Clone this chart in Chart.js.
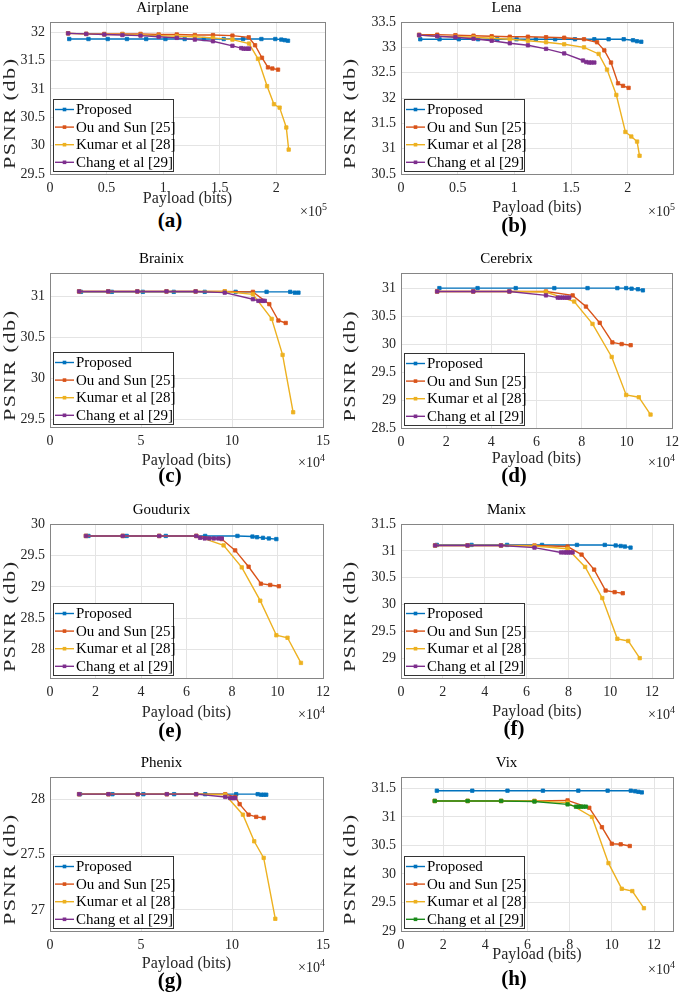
<!DOCTYPE html>
<html>
<head>
<meta charset="utf-8">
<title>PSNR versus payload</title>
<script src="https://cdn.jsdelivr.net/npm/chart.js@4.4.1/dist/chart.umd.min.js"></script>
<style>
  body { margin: 0; background: #fff; }
  #page { position: relative; width: 685px; height: 994px; overflow: hidden; font-family: "Liberation Serif", "Times New Roman", serif; }
  #page canvas { position: absolute; }
  .tag { position: absolute; width: 80px; margin-left: -40px; text-align: center; font-weight: bold; font-size: 21px; line-height: 24px; color: #000; }
  .expo { position: absolute; width: 60px; text-align: right; font-size: 14px; line-height: 18px; color: #262626; }
  .expo sup { font-size: 10px; vertical-align: 6px; line-height: 0; }
</style>
</head>
<body>
<div id="page"></div>
<script>
// Series order is the legend order of every panel
const seriesNames = ['Proposed', 'Ou and Sun [25]', 'Kumar et al [28]', 'Chang et al [29]'];

// (a) Airplane, payload in units of 1e5 bits
const airplanePayload = [
  [0.17, 0.34, 0.51, 0.68, 0.85, 1.02, 1.19, 1.36, 1.535, 1.706, 1.868, 1.991, 2.044, 2.074, 2.103],
  [0.16, 0.32, 0.48, 0.64, 0.8, 0.96, 1.12, 1.28, 1.44, 1.612, 1.756, 1.812, 1.873, 1.926, 1.965, 2.015],
  [0.16, 0.32, 0.48, 0.64, 0.8, 0.96, 1.12, 1.28, 1.44, 1.612, 1.759, 1.838, 1.918, 1.979, 2.029, 2.088, 2.109],
  [0.16, 0.32, 0.48, 0.64, 0.8, 0.96, 1.12, 1.28, 1.44, 1.612, 1.69, 1.71, 1.73, 1.75, 1.76]
];
const airplanePsnr = [
  [31.88, 31.88, 31.88, 31.88, 31.88, 31.88, 31.88, 31.88, 31.88, 31.88, 31.88, 31.88, 31.87, 31.86, 31.85],
  [31.98, 31.97, 31.97, 31.97, 31.97, 31.96, 31.96, 31.95, 31.95, 31.94, 31.91, 31.77, 31.55, 31.38, 31.36, 31.34],
  [31.98, 31.97, 31.96, 31.96, 31.95, 31.94, 31.93, 31.92, 31.9, 31.87, 31.8, 31.53, 31.05, 30.73, 30.67, 30.32, 29.93],
  [31.98, 31.97, 31.96, 31.95, 31.94, 31.92, 31.9, 31.87, 31.84, 31.76, 31.72, 31.71, 31.71, 31.71, 31.71]
];
const airplaneXTicks = [0, 0.5, 1, 1.5, 2];
const airplaneYTicks = [29.5, 30, 30.5, 31, 31.5, 32];

// (b) Lena, 1e5 bits
const lenaPayload = [
  [0.17, 0.34, 0.51, 0.68, 0.85, 1.02, 1.19, 1.36, 1.535, 1.706, 1.832, 1.965, 2.047, 2.082, 2.12],
  [0.16, 0.32, 0.48, 0.64, 0.8, 0.96, 1.12, 1.28, 1.44, 1.615, 1.73, 1.794, 1.853, 1.915, 1.959, 2.008],
  [0.16, 0.32, 0.48, 0.64, 0.8, 0.96, 1.12, 1.28, 1.44, 1.615, 1.744, 1.818, 1.9, 1.98, 2.032, 2.083, 2.105],
  [0.16, 0.32, 0.48, 0.64, 0.8, 0.96, 1.12, 1.28, 1.44, 1.606, 1.635, 1.66, 1.68, 1.706]
];
const lenaPsnr = [
  [33.16, 33.16, 33.16, 33.16, 33.16, 33.16, 33.16, 33.16, 33.16, 33.16, 33.16, 33.16, 33.14, 33.12, 33.11],
  [33.25, 33.25, 33.24, 33.23, 33.22, 33.21, 33.21, 33.2, 33.19, 33.16, 33.1, 32.94, 32.7, 32.29, 32.24, 32.2],
  [33.24, 33.22, 33.21, 33.2, 33.18, 33.16, 33.13, 33.1, 33.06, 33.0, 32.87, 32.56, 32.06, 31.33, 31.24, 31.14, 30.86],
  [33.24, 33.22, 33.2, 33.17, 33.13, 33.08, 33.04, 32.97, 32.88, 32.74, 32.71, 32.7, 32.7, 32.7]
];
const lenaXTicks = [0, 0.5, 1, 1.5, 2];
const lenaYTicks = [30.5, 31, 31.5, 32, 32.5, 33, 33.5];

// (c) Brainix, 1e4 bits
const brainixPayload = [
  [1.7, 3.4, 5.1, 6.8, 8.5, 10.2, 11.9, 13.2, 13.45, 13.65],
  [1.6, 3.2, 4.8, 6.4, 8.0, 9.6, 11.15, 12.05, 12.55, 12.95],
  [1.6, 3.2, 4.8, 6.4, 8.0, 9.6, 11.15, 12.18, 12.78, 13.36],
  [1.6, 3.2, 4.8, 6.4, 8.0, 9.6, 11.15, 11.45, 11.6, 11.7, 11.8]
];
const brainixPsnr = [
  [31.06, 31.06, 31.06, 31.06, 31.06, 31.06, 31.06, 31.06, 31.05, 31.05],
  [31.065, 31.065, 31.065, 31.065, 31.065, 31.065, 31.06, 30.91, 30.71, 30.68],
  [31.065, 31.065, 31.065, 31.065, 31.065, 31.065, 31.03, 30.73, 30.29, 29.59],
  [31.065, 31.065, 31.065, 31.065, 31.065, 31.05, 30.97, 30.95, 30.95, 30.95, 30.95]
];
const brainixXTicks = [0, 5, 10, 15];
const brainixYTicks = [29.5, 30, 30.5, 31];

// (d) Cerebrix, 1e4 bits
const cerebrixPayload = [
  [1.7, 3.39, 5.08, 6.79, 8.26, 9.58, 9.97, 10.21, 10.49, 10.71],
  [1.6, 3.2, 4.8, 6.42, 7.6, 8.19, 8.8, 9.36, 9.77, 10.17],
  [1.6, 3.2, 4.8, 6.42, 7.67, 8.48, 9.33, 9.97, 10.53, 11.05],
  [1.6, 3.2, 4.8, 6.42, 6.94, 7.05, 7.15, 7.25, 7.35, 7.45]
];
const cerebrixPsnr = [
  [31.0, 31.0, 31.0, 31.0, 31.0, 31.0, 31.0, 30.99, 30.98, 30.96],
  [30.94, 30.94, 30.94, 30.94, 30.87, 30.67, 30.38, 30.03, 30.0, 29.98],
  [30.94, 30.94, 30.94, 30.93, 30.76, 30.36, 29.77, 29.09, 29.05, 28.74],
  [30.94, 30.94, 30.94, 30.87, 30.83, 30.83, 30.83, 30.83, 30.83, 30.83]
];
const cerebrixXTicks = [0, 2, 4, 6, 8, 10, 12];
const cerebrixYTicks = [28.5, 29, 29.5, 30, 30.5, 31];

// (e) Goudurix, 1e4 bits
const goudurixPayload = [
  [1.69, 3.37, 5.09, 6.82, 8.24, 8.9, 9.1, 9.36, 9.62, 9.95],
  [1.58, 3.2, 4.8, 6.43, 7.55, 8.14, 8.73, 9.27, 9.68, 10.06],
  [1.58, 3.2, 4.8, 6.43, 7.63, 8.43, 9.24, 9.95, 10.44, 11.03],
  [1.58, 3.2, 4.8, 6.43, 6.6, 6.8, 7.0, 7.2, 7.4, 7.55]
];
const goudurixPsnr = [
  [29.81, 29.81, 29.81, 29.81, 29.81, 29.8, 29.79, 29.78, 29.77, 29.76],
  [29.81, 29.81, 29.81, 29.81, 29.76, 29.58, 29.32, 29.05, 29.03, 29.01],
  [29.81, 29.81, 29.81, 29.81, 29.66, 29.31, 28.78, 28.23, 28.19, 27.79],
  [29.81, 29.81, 29.81, 29.81, 29.78, 29.77, 29.77, 29.77, 29.77, 29.77]
];
const goudurixXTicks = [0, 2, 4, 6, 8, 10, 12];
const goudurixYTicks = [28, 28.5, 29, 29.5, 30];

// (f) Manix, 1e4 bits
const manixPayload = [
  [1.71, 3.37, 5.07, 6.74, 8.41, 9.74, 10.26, 10.5, 10.7, 10.97],
  [1.63, 3.18, 4.78, 6.38, 7.96, 8.63, 9.23, 9.78, 10.21, 10.6],
  [1.63, 3.18, 4.78, 6.38, 7.96, 8.8, 9.62, 10.34, 10.86, 11.41],
  [1.63, 3.18, 4.78, 6.38, 7.65, 7.8, 7.9, 8.0, 8.1, 8.2]
];
const manixPsnr = [
  [31.11, 31.11, 31.11, 31.11, 31.11, 31.11, 31.1, 31.09, 31.08, 31.06],
  [31.1, 31.1, 31.1, 31.1, 31.08, 30.93, 30.65, 30.26, 30.23, 30.21],
  [31.1, 31.1, 31.1, 31.09, 31.04, 30.7, 30.12, 29.36, 29.32, 29.0],
  [31.1, 31.1, 31.1, 31.06, 30.97, 30.97, 30.97, 30.97, 30.97, 30.97]
];
const manixXTicks = [0, 2, 4, 6, 8, 10, 12];
const manixYTicks = [29, 29.5, 30, 30.5, 31, 31.5];

// (g) Phenix, 1e4 bits
const phenixPayload = [
  [1.65, 3.43, 5.13, 6.82, 8.53, 10.23, 11.41, 11.6, 11.74, 11.88],
  [1.6, 3.21, 4.82, 6.42, 8.03, 9.63, 10.18, 10.42, 10.91, 11.33, 11.74],
  [1.6, 3.21, 4.82, 6.42, 8.03, 9.63, 10.6, 11.22, 11.74, 12.38],
  [1.6, 3.21, 4.82, 6.42, 8.03, 9.63, 9.9, 10.0, 10.1, 10.18]
];
const phenixPsnr = [
  [28.045, 28.045, 28.045, 28.045, 28.045, 28.045, 28.045, 28.04, 28.04, 28.04],
  [28.045, 28.045, 28.045, 28.045, 28.045, 28.045, 28.02, 27.955, 27.86, 27.84, 27.83],
  [28.045, 28.045, 28.045, 28.045, 28.045, 28.04, 27.86, 27.62, 27.47, 26.92],
  [28.045, 28.045, 28.045, 28.045, 28.045, 28.02, 28.01, 28.01, 28.01, 28.01]
];
const phenixXTicks = [0, 5, 10, 15];
const phenixYTicks = [27, 27.5, 28];

// (h) Vix, 1e4 bits
const vixPayload = [
  [1.7, 3.38, 5.05, 6.73, 8.41, 9.8, 10.9, 11.1, 11.26, 11.42],
  [1.6, 3.16, 4.75, 6.33, 7.9, 8.93, 9.53, 10.0, 10.42, 10.85],
  [1.6, 3.16, 4.75, 6.33, 7.9, 9.06, 9.84, 10.47, 10.97, 11.52],
  [1.6, 3.16, 4.75, 6.33, 7.9, 8.3, 8.42, 8.53, 8.65, 8.77]
];
const vixPsnr = [
  [31.46, 31.46, 31.46, 31.46, 31.46, 31.46, 31.46, 31.45, 31.44, 31.43],
  [31.28, 31.28, 31.28, 31.28, 31.29, 31.16, 30.82, 30.53, 30.52, 30.49],
  [31.28, 31.28, 31.28, 31.28, 31.25, 31.0, 30.19, 29.74, 29.7, 29.4],
  [31.28, 31.28, 31.28, 31.27, 31.22, 31.18, 31.18, 31.18, 31.18, 31.18]
];
const vixXTicks = [0, 2, 4, 6, 8, 10, 12];
const vixYTicks = [29, 29.5, 30, 30.5, 31, 31.5];

// colours
const lineColors = ['#0072BD', '#D95319', '#EDB120', '#7E2F8E'];
const vixColors = ['#0072BD', '#D95319', '#EDB120', '#1B8B1B'];

// layout of the 8 panels (plot box in page pixels)
const panels = [
  { title: 'Airplane', tag: '(a)', exp: 5, x: airplanePayload, y: airplanePsnr, xTicks: airplaneXTicks, yTicks: airplaneYTicks,
    xMax: 2.43, yMin: 29.5, yMax: 32.18, col: 0, top: 22, bottom: 174, right: 325, xTitleGap: 24, tagY: 220, expY: 212 },
  { title: 'Lena', tag: '(b)', exp: 5, x: lenaPayload, y: lenaPsnr, xTicks: lenaXTicks, yTicks: lenaYTicks,
    xMax: 2.4, yMin: 30.5, yMax: 33.5, col: 1, top: 22, bottom: 174, right: 673, xTitleGap: 33, tagY: 225, expY: 212 },
  { title: 'Brainix', tag: '(c)', exp: 4, x: brainixPayload, y: brainixPsnr, xTicks: brainixXTicks, yTicks: brainixYTicks,
    xMax: 15, yMin: 29.41, yMax: 31.29, col: 0, top: 273, bottom: 427, right: 323, xTitleGap: 33, tagY: 475, expY: 463 },
  { title: 'Cerebrix', tag: '(d)', exp: 4, x: cerebrixPayload, y: cerebrixPsnr, xTicks: cerebrixXTicks, yTicks: cerebrixYTicks,
    xMax: 12, yMin: 28.5, yMax: 31.27, col: 1, top: 273, bottom: 428, right: 673, xTitleGap: 30, tagY: 475, expY: 463 },
  { title: 'Goudurix', tag: '(e)', exp: 4, x: goudurixPayload, y: goudurixPsnr, xTicks: goudurixXTicks, yTicks: goudurixYTicks,
    xMax: 12, yMin: 27.55, yMax: 30, col: 0, top: 524, bottom: 678, right: 323, xTitleGap: 34, tagY: 730, expY: 715 },
  { title: 'Manix', tag: '(f)', exp: 4, x: manixPayload, y: manixPsnr, xTicks: manixXTicks, yTicks: manixYTicks,
    xMax: 13, yMin: 28.63, yMax: 31.5, col: 1, top: 524, bottom: 678, right: 673, xTitleGap: 33, tagY: 728, expY: 715 },
  { title: 'Phenix', tag: '(g)', exp: 4, x: phenixPayload, y: phenixPsnr, xTicks: phenixXTicks, yTicks: phenixYTicks,
    xMax: 15, yMin: 26.81, yMax: 28.2, col: 0, top: 777, bottom: 931, right: 323, xTitleGap: 32, tagY: 980, expY: 968 },
  { title: 'Vix', tag: '(h)', exp: 4, x: vixPayload, y: vixPsnr, xTicks: vixXTicks, yTicks: vixYTicks, colors: vixColors,
    xMax: 12.9, yMin: 29, yMax: 31.7, col: 1, top: 777, bottom: 931, right: 673, xTitleGap: 23, tagY: 978, expY: 970 }
];

const serif = '"Liberation Serif", "Times New Roman", serif';
Chart.defaults.font.family = serif;
Chart.defaults.font.weight = 'normal';
Chart.defaults.color = '#262626';
Chart.defaults.animation = false;

const fmt = v => String(Math.round(v * 100) / 100);

// closed axes box like MATLAB's "box on"
const boxFrame = {
  id: 'boxFrame',
  afterDatasetsDraw(chart) {
    const { ctx, chartArea: a } = chart;
    ctx.save();
    ctx.strokeStyle = '#858585';
    ctx.lineWidth = 1;
    ctx.strokeRect(Math.round(a.left) + 0.5, Math.round(a.top) + 0.5, Math.round(a.width), Math.round(a.height));
    ctx.restore();
  }
};

// legend box in the lower left corner of the plot
const insetLegend = {
  id: 'insetLegend',
  afterDraw(chart) {
    const { ctx, chartArea: a } = chart;
    const w = 120, h = 72, rowH = 17.6;
    const x0 = Math.round(a.left) + 3, y0 = Math.round(a.bottom) - 3 - h;
    ctx.save();
    ctx.fillStyle = '#fff';
    ctx.fillRect(x0, y0, w, h);
    ctx.strokeStyle = '#333';
    ctx.lineWidth = 1;
    ctx.strokeRect(x0 + 0.5, y0 + 0.5, w, h);
    ctx.font = '15px ' + serif;
    ctx.textBaseline = 'middle';
    chart.data.datasets.forEach((ds, i) => {
      const cy = y0 + 10.5 + i * rowH;
      ctx.strokeStyle = ds.borderColor;
      ctx.lineWidth = 1.4;
      ctx.beginPath();
      ctx.moveTo(x0 + 2, cy);
      ctx.lineTo(x0 + 21, cy);
      ctx.stroke();
      ctx.fillStyle = ds.borderColor;
      ctx.fillRect(x0 + 9.7, cy - 1.8, 3.6, 3.6);
      ctx.fillStyle = '#000';
      ctx.fillText(ds.label, x0 + 23, cy + 0.5);
    });
    ctx.restore();
  }
};

// rotated y label, drawn elongated along its length as in the source figure
const longYTitle = {
  id: 'longYTitle',
  afterDraw(chart, args, opts) {
    const { ctx, chartArea: a } = chart;
    ctx.save();
    ctx.translate(opts.x, (a.top + a.bottom) / 2 + opts.shift);
    ctx.rotate(-Math.PI / 2);
    ctx.scale(opts.stretch, 1);
    ctx.font = opts.size + 'px ' + serif;
    ctx.fillStyle = '#262626';
    ctx.textAlign = 'left';
    ctx.textBaseline = 'middle';
    const chars = Array.from(opts.text);
    const widths = chars.map(c => ctx.measureText(c).width);
    const total = widths.reduce((s, w) => s + w, 0) + opts.gap * (chars.length - 1);
    let cx = -total / 2;
    chars.forEach((c, i) => {
      ctx.fillText(c, cx, 0);
      cx += widths[i] + opts.gap;
    });
    ctx.restore();
  }
};

const page = document.getElementById('page');

panels.forEach(p => {
  const colLeft = p.col ? 340 : 0;
  const colWidth = p.col ? 345 : 340;
  const boxLeft = p.col ? 401 : 50;
  const titleH = 23;
  const xh = p.xTitleGap + 10;
  const colors = p.colors || lineColors;

  const canvas = document.createElement('canvas');
  canvas.width = colWidth;
  canvas.height = (p.bottom - p.top) + titleH + xh;
  canvas.style.left = colLeft + 'px';
  canvas.style.top = (p.top - titleH) + 'px';
  page.appendChild(canvas);

  const datasets = seriesNames.map((name, i) => ({
    label: name,
    data: p.x[i].map((v, k) => ({ x: v, y: p.y[i][k] })),
    borderColor: colors[i],
    backgroundColor: colors[i],
    borderWidth: 1.4,
    pointStyle: 'rect',
    pointRadius: 2.4,
    pointBorderWidth: 0.8,
    pointHoverRadius: 2.4,
    tension: 0,
    order: 3 - i
  }));

  new Chart(canvas, {
    type: 'line',
    data: { datasets },
    options: {
      responsive: false,
      events: [],
      layout: { padding: { top: 0, left: 0, bottom: 0, right: colLeft + colWidth - p.right } },
      plugins: {
        legend: { display: false },
        tooltip: { enabled: false },
        title: { display: true, text: p.title, color: '#000', font: { family: serif, size: 15, weight: 'normal' }, padding: { top: 0, bottom: 5 } },
        longYTitle: { x: p.col ? 11 : 10.5, shift: 16, size: 17, stretch: 1.3, gap: 1.2, text: 'PSNR (db)' }
      },
      scales: {
        x: {
          type: 'linear', min: 0, max: p.xMax,
          afterBuildTicks: s => { s.ticks = p.xTicks.map(v => ({ value: v })); },
          afterFit: s => { s.height = xh; },
          grid: { color: '#e4e4e4', drawTicks: false },
          border: { display: false },
          ticks: { autoSkip: false, maxRotation: 0, padding: 6, font: { family: serif, size: 14, weight: 'normal' }, callback: fmt },
          title: { display: true, text: 'Payload (bits)', font: { family: serif, size: 16, weight: 'normal' }, padding: { top: 0, bottom: 0 } }
        },
        y: {
          type: 'linear', min: p.yMin, max: p.yMax,
          afterBuildTicks: s => { s.ticks = p.yTicks.map(v => ({ value: v })); },
          afterFit: s => { s.width = boxLeft - colLeft; },
          grid: { color: '#e4e4e4', drawTicks: false },
          border: { display: false },
          ticks: { autoSkip: false, padding: 5, font: { family: serif, size: 14, weight: 'normal' }, callback: fmt }
        }
      }
    },
    plugins: [boxFrame, insetLegend, longYTitle]
  });

  const tag = document.createElement('div');
  tag.className = 'tag';
  tag.textContent = p.tag;
  tag.style.left = (p.col ? 514 : 170) + 'px';
  tag.style.top = (p.tagY - 12) + 'px';
  page.appendChild(tag);

  const expo = document.createElement('div');
  expo.className = 'expo';
  expo.innerHTML = '\u00d710<sup>' + p.exp + '</sup>';
  expo.style.left = (p.right + 2 - 60) + 'px';
  expo.style.top = (p.expY - 9) + 'px';
  page.appendChild(expo);
});
</script>
</body>
</html>
